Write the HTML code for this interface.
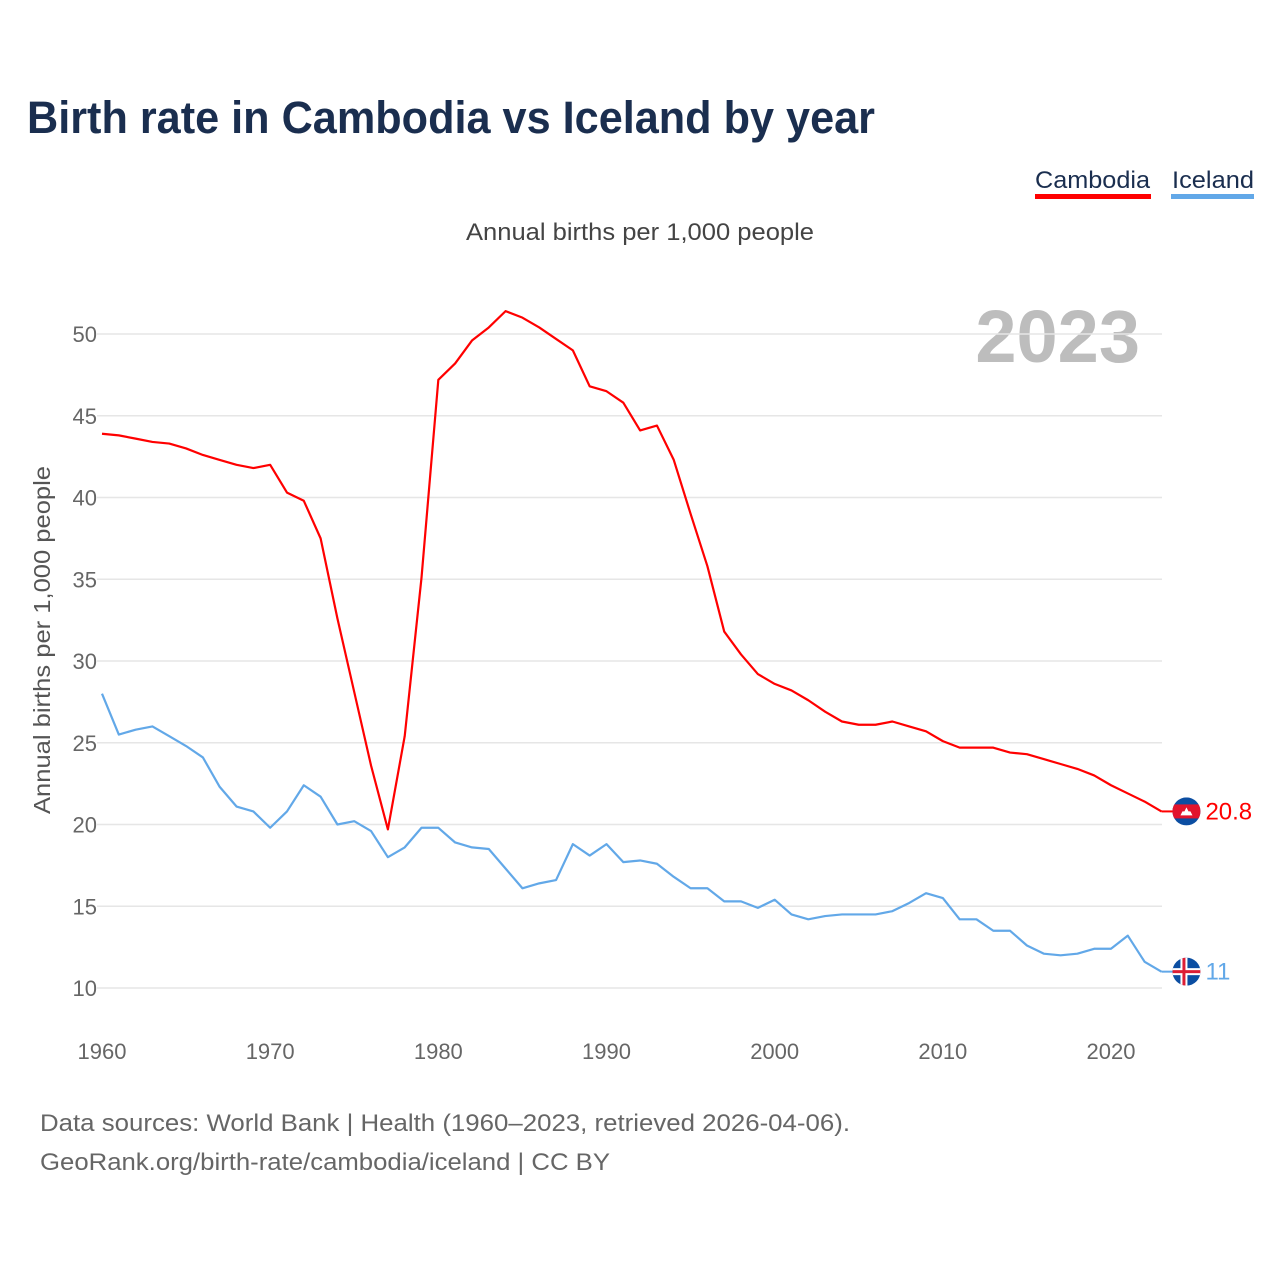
<!DOCTYPE html>
<html><head><meta charset="utf-8"><style>
body{margin:0;background:#fff;width:1280px;height:1280px;overflow:hidden;font-family:"Liberation Sans",sans-serif}
</style></head><body>
<svg id="chart" width="1280" height="1280" xmlns="http://www.w3.org/2000/svg">
<text x="27" y="133" font-size="45" font-weight="bold" fill="#1a2e4f" textLength="848" lengthAdjust="spacingAndGlyphs">Birth rate in Cambodia vs Iceland by year</text>
<g>
<text x="1035" y="188" font-size="24" fill="#1a2e4f" textLength="115" lengthAdjust="spacingAndGlyphs">Cambodia</text>
<rect x="1035" y="194" width="116" height="5" fill="#ff0000"/></g>
<g>
<text x="1172" y="188" font-size="24" fill="#1a2e4f" textLength="82" lengthAdjust="spacingAndGlyphs">Iceland</text>
<rect x="1171" y="194" width="83" height="5" fill="#62a8e8"/></g>
<text x="466" y="240" font-size="24" fill="#444" textLength="348" lengthAdjust="spacingAndGlyphs">Annual births per 1,000 people</text>
<text x="1140" y="362" font-size="74" font-weight="bold" fill="#bdbdbd" text-anchor="end">2023</text>
<text transform="translate(50,640) rotate(-90)" font-size="23" fill="#555" text-anchor="middle" textLength="348" lengthAdjust="spacingAndGlyphs">Annual births per 1,000 people</text>
<g id="grid"></g><g id="yt"></g><g id="xt"></g><g id="lines"></g>
<text x="40" y="1131" font-size="24" fill="#666" textLength="810" lengthAdjust="spacingAndGlyphs">Data sources: World Bank | Health (1960–2023, retrieved 2026-04-06).</text>
<text x="40" y="1170" font-size="24" fill="#666" textLength="570" lengthAdjust="spacingAndGlyphs">GeoRank.org/birth-rate/cambodia/iceland | CC BY</text>
</svg>
<script>
const years=[];for(let y=1960;y<=2023;y++)years.push(y);
const cambodia=[43.9,43.8,43.6,43.4,43.3,43.0,42.6,42.3,42.0,41.8,42.0,40.3,39.8,37.5,32.6,28.1,23.6,19.7,25.4,35.1,47.2,48.2,49.6,50.4,51.4,51.0,50.4,49.7,49.0,46.8,46.5,45.8,44.1,44.4,42.3,39.0,35.8,31.8,30.4,29.2,28.6,28.2,27.6,26.9,26.3,26.1,26.1,26.3,26.0,25.7,25.1,24.7,24.7,24.7,24.4,24.3,24.0,23.7,23.4,23.0,22.4,21.9,21.4,20.8];
const iceland=[28.0,25.5,25.8,26.0,25.4,24.8,24.1,22.3,21.1,20.8,19.8,20.8,22.4,21.7,20.0,20.2,19.6,18.0,18.6,19.8,19.8,18.9,18.6,18.5,17.3,16.1,16.4,16.6,18.8,18.1,18.8,17.7,17.8,17.6,16.8,16.1,16.1,15.3,15.3,14.9,15.4,14.5,14.2,14.4,14.5,14.5,14.5,14.7,15.2,15.8,15.5,14.2,14.2,13.5,13.5,12.6,12.1,12.0,12.1,12.4,12.4,13.2,11.6,11.0];
const yTicks=[10,15,20,25,30,35,40,45,50];
const xTicks=[1960,1970,1980,1990,2000,2010,2020];
const NS="http://www.w3.org/2000/svg";
const X=y=>102+(y-1960)*(1111-102)/60;
const Y=v=>988-(v-10)*(988-334)/40;
function mk(tag,attrs,parent){const e=document.createElementNS(NS,tag);for(const k in attrs)e.setAttribute(k,attrs[k]);document.getElementById(parent).appendChild(e);return e;}
yTicks.forEach(t=>{
 const l=mk('line',{x1:97,x2:1162,y1:Y(t),y2:Y(t),stroke:'#e6e6e6','stroke-width':1.5},'grid');
 
 
 const tx=mk('text',{x:97,y:Y(t)+8,'font-size':22,fill:'#666','text-anchor':'end'},'yt');tx.textContent=t;
 
 
});
xTicks.forEach(t=>{
 const tx=mk('text',{x:X(t),y:1059,'font-size':22,fill:'#666','text-anchor':'middle'},'xt');tx.textContent=t;
 
 
});
function series(vals,color,name){
 const p=mk('polyline',{points:vals.map((v,i)=>X(years[i])+','+Y(v)).join(' '),fill:'none',stroke:color,'stroke-width':2.2,'stroke-linejoin':'round'},'lines');
 
 
 const last=vals[vals.length-1],cx=X(2023)+25,cy=Y(last);
 mk('line',{x1:X(2023),x2:cx-13,y1:cy,y2:cy,stroke:color,'stroke-width':2},'lines');
 return {cx,cy,last};
}
const c=series(cambodia,'#ff0000','cambodia');
const i=series(iceland,'#62a8e8','iceland');
let g=mk('g',{},'lines');


g.innerHTML=`<clipPath id="cc"><circle cx="${c.cx}" cy="${c.cy}" r="14"/></clipPath><g clip-path="url(#cc)"><rect x="${c.cx-14}" y="${c.cy-14}" width="28" height="28" fill="#0b4ea2"/><rect x="${c.cx-14}" y="${c.cy-7}" width="28" height="14" fill="#e2142d"/><path d="M${c.cx-6} ${c.cy+4}h12l-2-4h-2l-2-4-2 4h-2z" fill="#fff"/></g>`;
let t=mk('text',{x:c.cx+19,y:c.cy+8,'font-size':24,fill:'#ff0000'},'lines');t.textContent=c.last;


g=mk('g',{},'lines');


g.innerHTML=`<clipPath id="ic"><circle cx="${i.cx}" cy="${i.cy}" r="14"/></clipPath><g clip-path="url(#ic)"><rect x="${i.cx-14}" y="${i.cy-14}" width="28" height="28" fill="#0b4ea2"/><rect x="${i.cx-14}" y="${i.cy-3.5}" width="28" height="7" fill="#fff"/><rect x="${i.cx-6}" y="${i.cy-14}" width="7" height="28" fill="#fff"/><rect x="${i.cx-14}" y="${i.cy-1.5}" width="28" height="3" fill="#dc1e35"/><rect x="${i.cx-4}" y="${i.cy-14}" width="3" height="28" fill="#dc1e35"/></g>`;
t=mk('text',{x:i.cx+19,y:i.cy+8,'font-size':24,fill:'#62a8e8'},'lines');t.textContent=i.last;


</script>
</body></html>
